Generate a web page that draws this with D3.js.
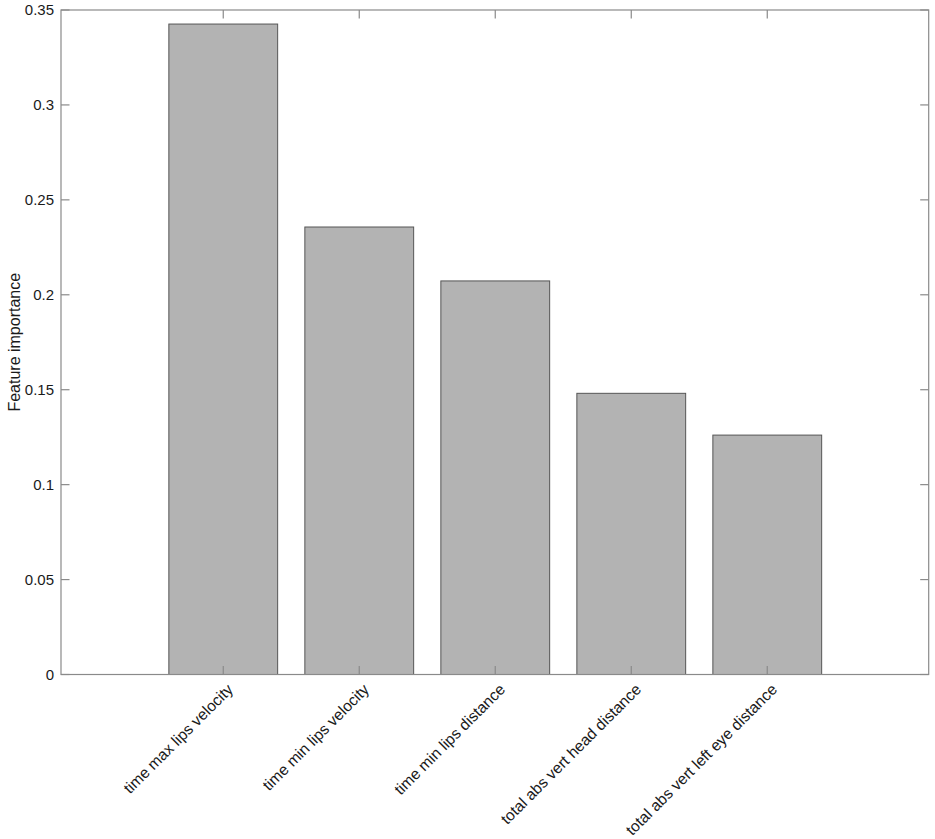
<!DOCTYPE html>
<html><head><meta charset="utf-8">
<script src="https://cdn.jsdelivr.net/npm/d3@7"></script>
<style>body{margin:0;background:#fff}svg{display:block}text{font-family:"Liberation Sans",Arial,Helvetica,sans-serif;fill:#1a1a1a}</style>
</head><body>
<svg id="chart" width="935" height="839"></svg>
<script>
const categories = ["time max lips velocity","time min lips velocity","time min lips distance","total abs vert head distance","total abs vert left eye distance"];
const values = [0.3426, 0.2357, 0.2073, 0.1481, 0.1261];
const yTicks = [0, 0.05, 0.1, 0.15, 0.2, 0.25, 0.3, 0.35];
const yTickLabels = ["0","0.05","0.1","0.15","0.2","0.25","0.3","0.35"];
const yLabel = "Feature importance";

const svg = d3.select("#chart");
const L = 61, R = 928.7, T = 10, B = 674.5;
const x = d3.scaleLinear().domain([-0.193, 6.187]).range([L, R]);
const y = d3.scaleLinear().domain([0, 0.35]).range([B, T]);
const barW = x(0.8) - x(0);
const axisColor = "#8a8a8a";

// bars
svg.append("g").selectAll("rect").data(values).join("rect")
  .attr("x", (d,i) => x(i+1) - barW/2)
  .attr("y", d => y(d))
  .attr("width", barW)
  .attr("height", d => y(0) - y(d))
  .attr("fill", "#b3b3b3")
  .attr("stroke", "#555")
  .attr("stroke-width", 1);

// box
svg.append("rect").attr("x", L).attr("y", T).attr("width", R-L).attr("height", B-T)
  .attr("fill", "none").attr("stroke", axisColor).attr("stroke-width", 1.2);

const tl = 8.5;
// y ticks (left & right, inward)
const yg = svg.append("g");
yTicks.forEach((t,i) => {
  yg.append("line").attr("x1", L).attr("x2", L+tl).attr("y1", y(t)).attr("y2", y(t)).attr("stroke", axisColor).attr("stroke-width",1.2);
  yg.append("line").attr("x1", R).attr("x2", R-tl).attr("y1", y(t)).attr("y2", y(t)).attr("stroke", axisColor).attr("stroke-width",1.2);
  yg.append("text").attr("x", L-7).attr("y", y(t)).attr("dy","0.35em")
    .attr("text-anchor","end").attr("font-size", 15).text(yTickLabels[i]);
});

// x ticks (bottom & top inward)
const xg = svg.append("g");
categories.forEach((c,i) => {
  const cx = x(i+1);
  xg.append("line").attr("x1", cx).attr("x2", cx).attr("y1", B).attr("y2", B-tl).attr("stroke", axisColor).attr("stroke-width",1.2);
  xg.append("line").attr("x1", cx).attr("x2", cx).attr("y1", T).attr("y2", T+tl).attr("stroke", axisColor).attr("stroke-width",1.2);
  xg.append("text").attr("transform", `translate(${cx+7},${B+12}) rotate(-45)`)
    .attr("text-anchor","end").attr("dy","0.35em").attr("font-size", 15.6).text(c);
});

// y label
svg.append("text").attr("transform", `translate(14,${(T+B)/2}) rotate(-90)`)
  .attr("text-anchor","middle").attr("dy","0.35em").attr("font-size", 16).text(yLabel);
</script>
</body></html>
